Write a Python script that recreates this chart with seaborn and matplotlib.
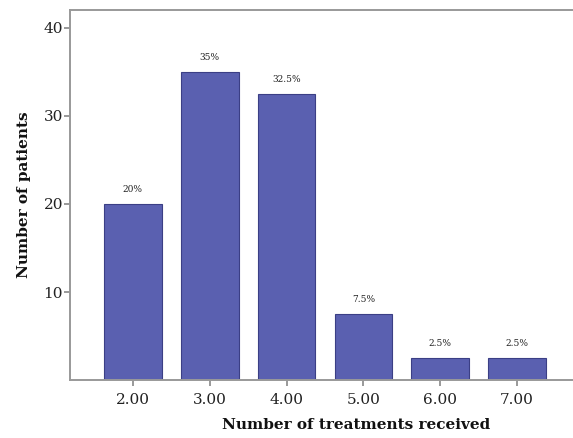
import pandas as pd
import seaborn as sns
import matplotlib.pyplot as plt

# antal behandlingar och antal patienter
treatments = ["2.00", "3.00", "4.00", "5.00", "6.00", "7.00"]
patients = [20, 35, 32.5, 7.5, 2.5, 2.5]
percent_labels = ["20%", "35%", "32.5%", "7.5%", "2.5%", "2.5%"]

df = pd.DataFrame({"treatments": treatments, "patients": patients})

sns.set_style("white")
plt.rcParams["font.family"] = ["DejaVu Serif"]

fig = plt.figure(figsize=(5.73, 4.38), dpi=100)
# axeln fortsätter utanför bilden till höger, som i originalet
ax = fig.add_axes([0.122, 0.132, 1.0, 0.845])

sns.barplot(data=df, x="treatments", y="patients", ax=ax, color="#5a60b0",
            edgecolor="#3b3f85", linewidth=0.8, width=0.75, saturation=1)

for i, lab in enumerate(percent_labels):
    ax.annotate(lab, (i, patients[i]), xytext=(0, 7), textcoords="offset points",
                ha="center", va="bottom", fontsize=6.5, color="#222222")

ax.set_xlim(-0.82, 6.64)
ax.set_ylim(0, 42)
ax.set_yticks([10, 20, 30, 40])
ax.set_xlabel("Number of treatments received", fontsize=11, fontweight="bold",
              color="#111111", labelpad=8)
ax.set_ylabel("Number of patients", fontsize=11, fontweight="bold",
              color="#111111", labelpad=9)
ax.tick_params(axis="both", bottom=True, left=True, labelsize=11, labelcolor="#222222",
               length=4, width=1.2, color="#888888", direction="out")
ax.tick_params(axis="x", pad=5)
ax.tick_params(axis="y", pad=1)

for side in ["left", "top", "bottom", "right"]:
    ax.spines[side].set_color("#999999")
    ax.spines[side].set_linewidth(1.4)
ax.spines["right"].set_visible(False)

fig.savefig("out.png", dpi=100)
